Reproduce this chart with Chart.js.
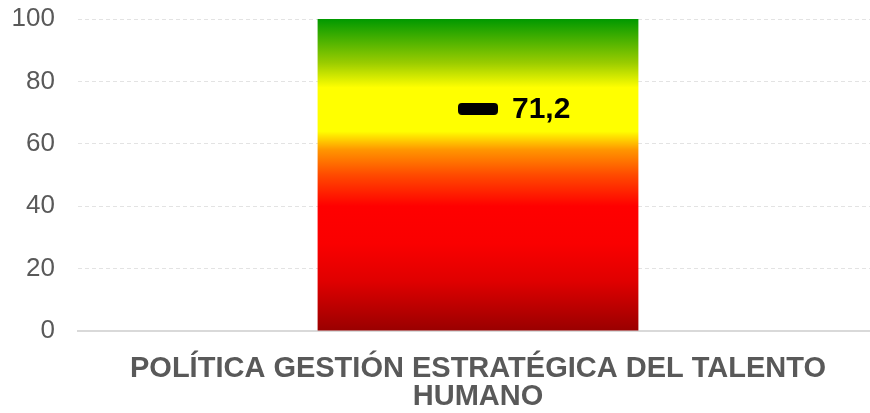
<!DOCTYPE html>
<html>
<head>
<meta charset="utf-8">
<script src="https://cdn.jsdelivr.net/npm/chart.js@4.4.1/dist/chart.umd.min.js"></script>
<style>
  html, body { margin: 0; padding: 0; background: #fff; overflow: hidden; }
  #wrap { width: 878px; height: 413px; position: relative; }
</style>
</head>
<body>
<div id="wrap"><canvas id="grafico"></canvas></div>
<script>
// datos del grafico
const categorias = [['POLÍTICA GESTIÓN ESTRATÉGICA DEL TALENTO', 'HUMANO']];
const escalaMaxima = [100];
const resultado = [71.2];
const ticksY = [0, 20, 40, 60, 80, 100];

document.addEventListener("DOMContentLoaded", function () {
    const ctx = document.getElementById('grafico').getContext('2d');

    // marcador: barra negra redondeada
    const marca = document.createElement('canvas');
    marca.width = 40;
    marca.height = 12;
    const mctx = marca.getContext('2d');
    mctx.fillStyle = '#000';
    mctx.beginPath();
    mctx.roundRect(0, 0, 40, 12, 4);
    mctx.fill();

    function degradado(context) {
        const area = context.chart.chartArea;
        if (!area) return '#ff0000';
        const g = context.chart.ctx.createLinearGradient(0, area.bottom, 0, area.top);
        g.addColorStop(0.00, '#990000');
        g.addColorStop(0.16, '#e00000');
        g.addColorStop(0.28, '#fa0000');
        g.addColorStop(0.40, '#ff0000');
        g.addColorStop(0.50, '#ff4a00');
        g.addColorStop(0.58, '#ff9500');
        g.addColorStop(0.64, '#ffff00');
        g.addColorStop(0.78, '#ffff00');
        g.addColorStop(0.86, '#99cc00');
        g.addColorStop(1.00, '#009900');
        return g;
    }

    // etiqueta del valor junto al marcador
    const etiquetaValor = {
        id: 'etiquetaValor',
        afterDatasetsDraw(chart) {
            const meta = chart.getDatasetMeta(0);
            const c = chart.ctx;
            c.save();
            c.font = 'bold 30px "Liberation Sans", Arial, sans-serif';
            c.fillStyle = '#000';
            c.textBaseline = 'middle';
            c.textAlign = 'left';
            meta.data.forEach((p, i) => {
                const txt = resultado[i].toFixed(1).replace('.', ',');
                c.fillText(txt, p.x + 34, p.y + 1);
            });
            c.restore();
        }
    };

    new Chart(ctx, {
        data: {
            labels: categorias,
            datasets: [{
                type: 'line',
                label: 'Resultado',
                data: resultado,
                showLine: false,
                pointStyle: marca,
                order: 0
            }, {
                type: 'bar',
                label: 'Escala',
                data: escalaMaxima,
                backgroundColor: degradado,
                borderWidth: 0,
                categoryPercentage: 1,
                barPercentage: 0.401,
                order: 1
            }]
        },
        options: {
            responsive: true,
            maintainAspectRatio: false,
            animation: false,
            layout: { autoPadding: false, padding: { top: 0, right: 0, left: 12, bottom: 4 } },
            plugins: {
                legend: { display: false },
                tooltip: { enabled: false }
            },
            scales: {
                y: {
                    min: 0,
                    max: 100,
                    afterBuildTicks: function (axis) {
                        axis.ticks = ticksY.map(v => ({ value: v }));
                    },
                    afterFit: function (axis) {
                        axis.width = 66;
                        axis.paddingTop = 19;
                        axis.paddingBottom = 0;
                    },
                    ticks: {
                        color: '#595959',
                        padding: 23,
                        font: { family: '"Liberation Sans", Arial, sans-serif', size: 26 }
                    },
                    grid: {
                        drawTicks: false,
                        color: c => c.tick && c.tick.value === 0 ? 'rgba(0,0,0,0)' : '#e3e3e3',
                        lineWidth: 1
                    },
                    border: { display: false, dash: [4, 3] }
                },
                x: {
                    afterFit: function (axis) {
                        axis.height = 78;
                        axis.paddingLeft = 0;
                        axis.paddingRight = 0;
                    },
                    ticks: {
                        color: '#595959',
                        padding: 24,
                        maxRotation: 0,
                        font: { family: '"Liberation Sans", Arial, sans-serif', size: 29, weight: 'bold', lineHeight: '28px' }
                    },
                    grid: { display: false, drawTicks: false },
                    border: { display: true, color: '#d9d9d9', width: 2 }
                }
            }
        },
        plugins: [etiquetaValor]
    });
});
</script>
</body>
</html>
